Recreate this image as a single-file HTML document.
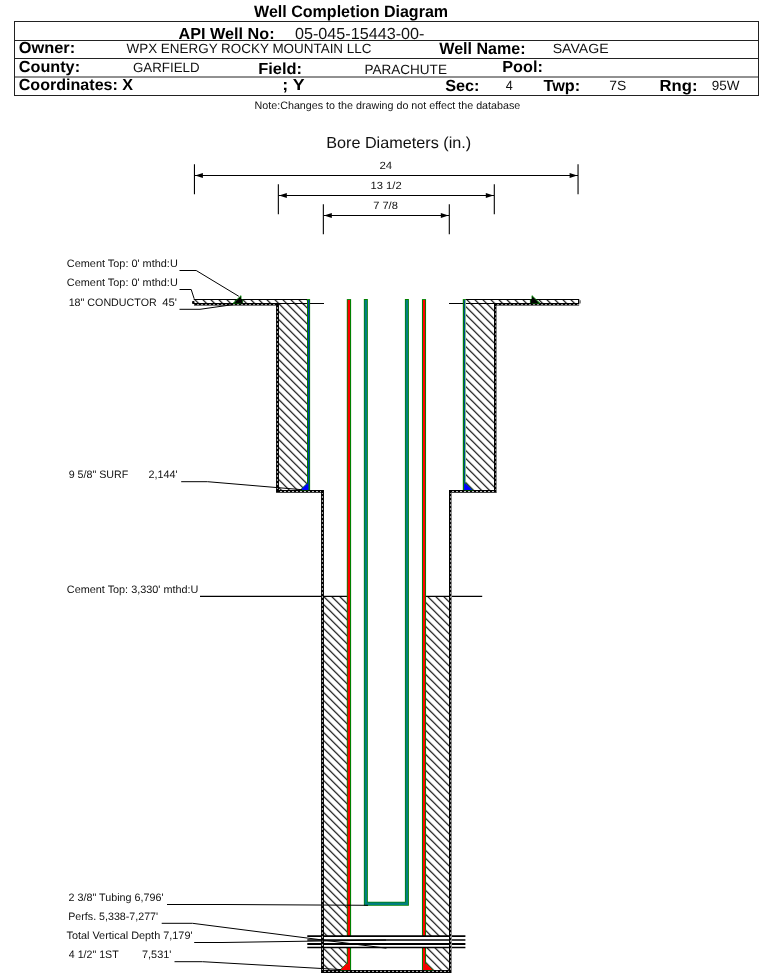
<!DOCTYPE html>
<html>
<head>
<meta charset="utf-8">
<title>Well Completion Diagram</title>
<style>
html,body{margin:0;padding:0;background:#fff;}
body{width:759px;height:973px;overflow:hidden;font-family:"Liberation Sans",sans-serif;}
svg{display:block;position:absolute;left:0;top:0;}
text{font-family:"Liberation Sans",sans-serif;fill:#111;text-rendering:geometricPrecision;}
.b{font-weight:bold;font-size:16px;fill:#000;}
.r{font-size:13.33px;}
.s{font-size:10.8px;}
.d{font-size:10.5px;}
.ln{stroke:#000;stroke-width:1.1;fill:none;}
.ld{stroke:#000;stroke-width:1;fill:none;}
</style>
</head>
<body>
<svg width="759" height="973" viewBox="0 0 759 973">
<defs>
<pattern id="hatch" patternUnits="userSpaceOnUse" width="8" height="8" x="0" y="0.75">
<path d="M-2,-2 L10,10 M-2,6 L2,10 M6,-2 L10,2" stroke="#000" stroke-width="1.15" fill="none"/>
</pattern>
</defs>
<rect x="0" y="0" width="759" height="973" fill="#fff"/>

<!-- ===== header ===== -->
<g id="header" style="filter:grayscale(1)">
<text class="b" style="font-size:16.5px" x="254.08" y="17.00" textLength="194.01" lengthAdjust="spacingAndGlyphs">Well Completion Diagram</text>
<g stroke="#222" stroke-width="1" fill="none">
<rect x="14.5" y="21.5" width="744" height="74"/>
<line x1="14.5" y1="40.5" x2="758.5" y2="40.5"/>
<line x1="14.5" y1="58.5" x2="758.5" y2="58.5"/>
<line x1="14.5" y1="77" x2="758.5" y2="77"/>
</g>
<text class="b" x="178.64" y="38.50" textLength="95.90" lengthAdjust="spacingAndGlyphs">API Well No:</text>
<text x="294.98" y="38.50" style="font-size:16px" textLength="129.48" lengthAdjust="spacingAndGlyphs">05-045-15443-00-</text>
<text class="b" x="18.74" y="53.4" textLength="56.35" lengthAdjust="spacingAndGlyphs">Owner:</text>
<text class="r" x="126.49" y="53.3" textLength="244.99" lengthAdjust="spacingAndGlyphs">WPX ENERGY ROCKY MOUNTAIN LLC</text>
<text class="b" style="font-size:16.5px" x="439.30" y="53.80" textLength="86.31" lengthAdjust="spacingAndGlyphs">Well Name:</text>
<text class="r" x="552.69" y="52.95" textLength="55.92" lengthAdjust="spacingAndGlyphs">SAVAGE</text>
<text class="b" x="18.81" y="72.0" textLength="61.25" lengthAdjust="spacingAndGlyphs">County:</text>
<text class="r" x="133.02" y="71.60" textLength="66.50" lengthAdjust="spacingAndGlyphs">GARFIELD</text>
<text class="b" x="258.27" y="74.00" textLength="43.74" lengthAdjust="spacingAndGlyphs">Field:</text>
<text class="r" x="364.47" y="73.90" textLength="82.44" lengthAdjust="spacingAndGlyphs">PARACHUTE</text>
<text class="b" x="502.30" y="72.40" textLength="40.56" lengthAdjust="spacingAndGlyphs">Pool:</text>
<text class="b" x="18.74" y="90.40" textLength="114.32" lengthAdjust="spacingAndGlyphs">Coordinates: X</text>
<text class="b" x="282.16" y="90.00" textLength="22.39" lengthAdjust="spacingAndGlyphs">; Y</text>
<text class="b" x="445.16" y="90.60" textLength="34.36" lengthAdjust="spacingAndGlyphs">Sec:</text>
<text class="r" x="505.66" y="89.8" textLength="7.00" lengthAdjust="spacingAndGlyphs">4</text>
<text class="b" x="543.52" y="90.80" textLength="36.68" lengthAdjust="spacingAndGlyphs">Twp:</text>
<text class="r" x="609.18" y="90" textLength="16.97" lengthAdjust="spacingAndGlyphs">7S</text>
<text class="b" x="659.53" y="90.80" textLength="37.93" lengthAdjust="spacingAndGlyphs">Rng:</text>
<text class="r" x="711.82" y="90" textLength="27.78" lengthAdjust="spacingAndGlyphs">95W</text>
<text class="s" x="254.57" y="108.8" textLength="265.72" lengthAdjust="spacingAndGlyphs">Note:Changes to the drawing do not effect the database</text>
</g>

<!-- ===== bore diameters ===== -->
<g id="bore" style="filter:grayscale(1)">
<text x="326.17" y="147.85" style="font-size:16px" textLength="145.02" lengthAdjust="spacingAndGlyphs">Bore Diameters (in.)</text>
<text class="d" x="379.41" y="169.1" textLength="12.76" lengthAdjust="spacingAndGlyphs">24</text>
<text class="d" x="370.58" y="189.3" textLength="31.01" lengthAdjust="spacingAndGlyphs">13 1/2</text>
<text class="d" x="373.19" y="209" textLength="24.69" lengthAdjust="spacingAndGlyphs">7 7/8</text>
<g class="ln">
<line x1="194.45" y1="164.2" x2="194.45" y2="194.3"/>
<line x1="578.05" y1="164.2" x2="578.05" y2="194.3"/>
<line x1="194.5" y1="175.5" x2="578" y2="175.5" stroke-width="1"/>
<line x1="278.35" y1="184.2" x2="278.35" y2="214.3"/>
<line x1="494.3" y1="184.2" x2="494.3" y2="214.3"/>
<line x1="278.5" y1="195.5" x2="494" y2="195.5" stroke-width="1"/>
<line x1="323.35" y1="204.2" x2="323.35" y2="234.3"/>
<line x1="449.3" y1="204.2" x2="449.3" y2="234.3"/>
<line x1="323.5" y1="215.5" x2="449" y2="215.5" stroke-width="1"/>
</g>
<g fill="#000">
<path d="M195.2,175.5 l7.7,-2.6 v5.2z"/>
<path d="M577.3,175.5 l-7.7,-2.6 v5.2z"/>
<path d="M279.1,195.5 l7.7,-2.6 v5.2z"/>
<path d="M493.5,195.5 l-7.7,-2.6 v5.2z"/>
<path d="M324.1,215.5 l7.7,-2.6 v5.2z"/>
<path d="M448.5,215.5 l-7.7,-2.6 v5.2z"/>
</g>
</g>

<!-- ===== well ===== -->
<g id="well">
<g fill="url(#hatch)">
<rect x="193.3" y="299.5" width="113.9" height="4.9"/>
<rect x="465.6" y="299.5" width="113" height="4.9"/>
<rect x="277.5" y="303.5" width="29.8" height="186.6"/>
<rect x="465.6" y="303.5" width="30" height="186.6"/>
<rect x="322.5" y="596.4" width="24.6" height="373.6"/>
<rect x="425.9" y="596.4" width="24.6" height="373.6"/>
</g>
<g class="ln">
<line x1="193.8" y1="299.5" x2="307.3" y2="299.5"/>
<line x1="465.6" y1="299.5" x2="579.1" y2="299.5"/>
<line x1="277" y1="303.5" x2="324" y2="303.5"/>
<line x1="449" y1="303.5" x2="496" y2="303.5"/>
<line x1="200" y1="596.4" x2="347" y2="596.4"/>
<line x1="426" y1="596.4" x2="482.2" y2="596.4"/>
</g>
<g stroke="#000" stroke-width="2.9" fill="none" stroke-linejoin="miter">
<path d="M194.0,304.4 H277.5 V491.4 H322.5 V971.5 H387"/>
<path d="M579.1,304.4 H495.45 V491.4 H450.45 V971.5 H386"/>
</g>
<line x1="578.6" y1="299" x2="578.6" y2="304" stroke="#000" stroke-width="1.1"/>
<rect x="579.1" y="300.1" width="1.8" height="3.5" rx="0.9" fill="#7a7a7a"/>
<rect x="192.1" y="300.9" width="2.4" height="3.1" rx="0.8" fill="#000"/>
<g fill="#8c8c8c">
<rect x="496.0" y="305.5" width="0.95" height="187.3"/>
<rect x="451.0" y="492.5" width="0.95" height="480.5"/>
</g>
<g fill="#fff" fill-opacity="0.45">
<rect x="192" y="305.35" width="84.2" height="0.6"/>
<rect x="497" y="305.35" width="84.2" height="0.6"/>
</g>
<g fill="none">
<line x1="194.50" y1="304.60" x2="276.00" y2="304.60" stroke="#b0b0b0" stroke-width="0.90" stroke-dasharray="2 2" stroke-dashoffset="1.50"/>
<line x1="277.40" y1="306.00" x2="277.40" y2="490.00" stroke="#bcbcbc" stroke-width="1.00" stroke-dasharray="2 2" stroke-dashoffset="3.00"/>
<line x1="279.00" y1="491.50" x2="321.00" y2="491.50" stroke="#bcbcbc" stroke-width="1.00" stroke-dasharray="2 2" stroke-dashoffset="3.00"/>
<line x1="322.40" y1="493.00" x2="322.40" y2="970.00" stroke="#bcbcbc" stroke-width="1.00" stroke-dasharray="2 2" stroke-dashoffset="1.00"/>
<line x1="324.00" y1="971.40" x2="449.00" y2="971.40" stroke="#bcbcbc" stroke-width="1.00" stroke-dasharray="2 2" stroke-dashoffset="0.00"/>
<line x1="450.70" y1="493.00" x2="450.70" y2="970.00" stroke="#b4b4b4" stroke-width="1.00" stroke-dasharray="2 2" stroke-dashoffset="1.00"/>
<line x1="452.00" y1="491.50" x2="494.00" y2="491.50" stroke="#bcbcbc" stroke-width="1.00" stroke-dasharray="2 2" stroke-dashoffset="0.00"/>
<line x1="495.80" y1="306.00" x2="495.80" y2="490.00" stroke="#b4b4b4" stroke-width="1.00" stroke-dasharray="2 2" stroke-dashoffset="1.00"/>
<line x1="497.00" y1="304.60" x2="579.00" y2="304.60" stroke="#b0b0b0" stroke-width="0.90" stroke-dasharray="2 2" stroke-dashoffset="0.00"/>
</g>
<g>
<path d="M241.0,295.7 V303.2 H233.2 Z" fill="#000" stroke="#008000" stroke-width="0.9" stroke-linejoin="round"/>
<path d="M240.9,297.3 V303.3 H234.8 Z" fill="#000"/>
<rect x="240.8" y="299" width="2.0" height="4.2" fill="#000"/>
<rect x="242.5" y="299.3" width="0.6" height="3.8" fill="#008000"/>
<path d="M532.0,295.7 V303.2 H539.8 Z" fill="#000" stroke="#008000" stroke-width="0.9" stroke-linejoin="round"/>
<path d="M532.1,297.3 V303.3 H538.2 Z" fill="#000"/>
<rect x="530.2" y="299" width="2.0" height="4.2" fill="#000"/>
<rect x="529.9" y="299.3" width="0.6" height="3.8" fill="#008000"/>
</g>
<rect x="307.0" y="299.1" width="3.1" height="191" fill="#008000"/>
<rect x="308.0" y="300" width="1.2" height="190.1" fill="#0038b0"/>
<rect x="462.8" y="299.1" width="3.0" height="191" fill="#008000"/>
<rect x="465.1" y="300" width="0.8" height="190.1" fill="#9fdc9f"/>
<rect x="463.95" y="300" width="1.1" height="190.1" fill="#004494"/>
<path d="M308,482.4 V490.1 H300.2Z" fill="#0000ff" stroke="#008000" stroke-width="0.7"/>
<path d="M308.2,483.4 V490.1 H301.5Z" fill="#0000ff"/>
<path d="M465,482.4 V490.1 H472.8Z" fill="#0000ff" stroke="#008000" stroke-width="0.7"/>
<path d="M464.1,483.2 V490.1 H471.5Z" fill="#0000ff"/>
<rect x="346.8" y="299.1" width="4.3" height="670.9" fill="#008000"/>
<rect x="347.7" y="300" width="2.3" height="670" fill="#ff0000"/>
<rect x="421.95" y="299.1" width="4.1" height="670.9" fill="#008000"/>
<rect x="423.0" y="300" width="2.1" height="670" fill="#ff0000"/>
<path d="M347.6,962.6 V970 H339.9Z" fill="#ff0000" stroke="#008000" stroke-width="0.7"/>
<path d="M347.9,963.6 V970 H341.2Z" fill="#ff0000"/>
<path d="M425.4,962.6 V970 H433.1Z" fill="#ff0000" stroke="#008000" stroke-width="0.7"/>
<path d="M425.1,963.6 V970 H431.8Z" fill="#ff0000"/>
<path d="M365.85,299.1 V903.8 H406.9 V299.1" stroke="#008000" stroke-width="4" fill="none"/>
<path d="M365.85,300 V903.8 H406.9 V300" stroke="#008080" stroke-width="2.4" fill="none"/>
<rect x="307.4" y="936" width="158" height="11.6" fill="#fff"/>
<g stroke="#000" stroke-width="1.4">
<line x1="307.3" y1="936.10" x2="465.4" y2="936.10" stroke-width="1.55"/>
<line x1="307.3" y1="939.95" x2="465.4" y2="939.95" stroke-width="1.60"/>
<line x1="307.3" y1="944.00" x2="465.4" y2="944.00" stroke-width="1.85"/>
<line x1="307.3" y1="947.50" x2="465.4" y2="947.50" stroke-width="1.35"/>
</g>
<path d="M322.5,934 V950 M450.45,934 V950" stroke="#000" stroke-width="2.9" fill="none"/>
<rect x="451.0" y="934" width="0.95" height="16" fill="#8c8c8c"/>
<g fill="none">
<line x1="322.40" y1="933.00" x2="322.40" y2="951.00" stroke="#bcbcbc" stroke-width="1.00" stroke-dasharray="2 2" stroke-dashoffset="1.00"/>
<line x1="450.70" y1="933.00" x2="450.70" y2="951.00" stroke="#b4b4b4" stroke-width="1.00" stroke-dasharray="2 2" stroke-dashoffset="1.00"/>
</g>
</g>
<!-- ===== labels ===== -->
<g id="labels" style="filter:grayscale(1)">
<text class="s" x="66.85" y="266.8" textLength="110.91" lengthAdjust="spacingAndGlyphs">Cement Top: 0' mthd:U</text>
<text class="s" x="66.85" y="285.8" textLength="110.91" lengthAdjust="spacingAndGlyphs">Cement Top: 0' mthd:U</text>
<text class="s" x="68.68" y="305.5" textLength="88.03" lengthAdjust="spacingAndGlyphs">18" CONDUCTOR</text>
<text class="s" x="162.22" y="305.5" textLength="14.70" lengthAdjust="spacingAndGlyphs">45'</text>
<text class="s" x="68.69" y="478" textLength="59.65" lengthAdjust="spacingAndGlyphs">9 5/8" SURF</text>
<text class="s" x="148.55" y="478" textLength="29.10" lengthAdjust="spacingAndGlyphs">2,144'</text>
<text class="s" x="66.85" y="593.3" textLength="131.50" lengthAdjust="spacingAndGlyphs">Cement Top: 3,330' mthd:U</text>
<text class="s" x="68.51" y="901" textLength="94.99" lengthAdjust="spacingAndGlyphs">2 3/8" Tubing 6,796'</text>
<text class="s" x="68.25" y="920" textLength="89.79" lengthAdjust="spacingAndGlyphs">Perfs. 5,338-7,277'</text>
<text class="s" x="66.45" y="939" textLength="126.08" lengthAdjust="spacingAndGlyphs">Total Vertical Depth 7,179'</text>
<text class="s" x="68.80" y="958.3" textLength="49.83" lengthAdjust="spacingAndGlyphs">4 1/2" 1ST</text>
<text class="s" x="142.01" y="958.3" textLength="29.44" lengthAdjust="spacingAndGlyphs">7,531'</text>
<g class="ld">
<polyline points="179.5,270.5 196.2,270.5 238.8,296.3"/>
<polyline points="179.5,289.5 191.2,289.5 194.2,298.8"/>
<polyline points="179.5,309.3 200,309.3 233,304.6"/>
<polyline points="181.2,481.7 207.5,481.7 302,489.7"/>
<polyline points="167,904.5 225,904.5 368,905.3"/>
<polyline points="161.7,923.3 192.5,923.3 386.4,948.2"/>
<polyline points="194.2,942.5 222,942.5 386,940.0"/>
<polyline points="174.5,961.7 202.5,961.7 341,969.6"/>
</g>
</g>
</svg>
</body>
</html>
